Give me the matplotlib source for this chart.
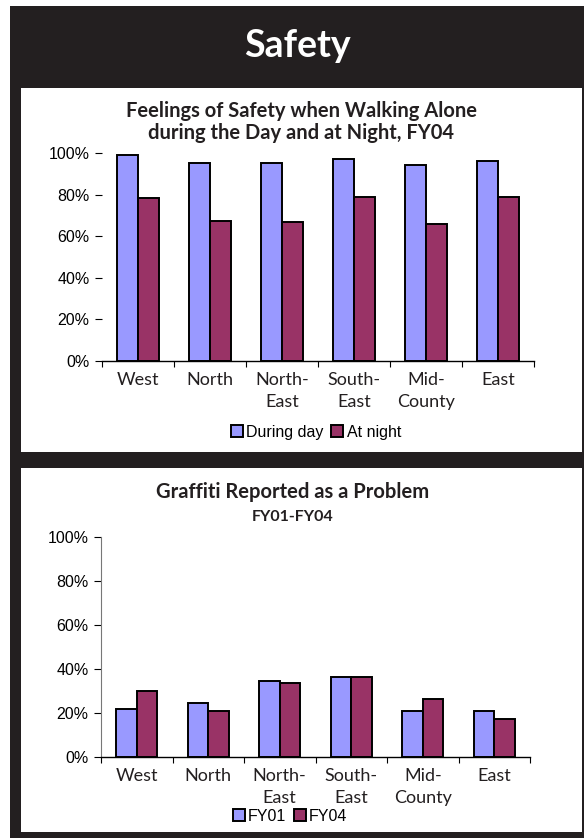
import matplotlib
matplotlib.use("Agg")
import matplotlib.pyplot as plt
from matplotlib.patches import Rectangle, Patch
import numpy as np

# Data
regions = ["West", "North", "North-\nEast", "South-\nEast", "Mid-\nCounty", "East"]
safety_day = [99, 95.4, 95.4, 97, 94.2, 96.3]
safety_night = [78.2, 67.4, 66.6, 78.9, 65.8, 78.9]
graffiti_fy01 = [21.8, 24.5, 34.4, 36.4, 21, 21]
graffiti_fy04 = [30, 21, 33.6, 36.4, 26.4, 17.3]
yticks = [0, 20, 40, 60, 80, 100]

BLUE = "#9999FF"
PLUM = "#993366"
DARK = "#231f20"
W, H = 584, 838

fig = plt.figure(figsize=(W / 100, H / 100), dpi=100)
fig.patch.set_facecolor("white")


def box(x0, y0, x1, y1, color):
    # rectangle in pixel coords (origin top-left)
    fig.patches.append(Rectangle((x0 / W, 1 - y1 / H), (x1 - x0) / W, (y1 - y0) / H,
                                 transform=fig.transFigure, facecolor=color,
                                 edgecolor="none", zorder=-10))


box(10, 6, 584, 838, DARK)
box(21, 88, 582, 452, "white")
box(21, 468, 582, 832, "white")

fig.text(297 / W, 1 - 46 / H, "Safety", color="white", fontsize=27,
         fontweight="bold", family="Lato", ha="center", va="center")


def bar_chart(rect, a, b, names, left_spine, label_y, legend_xy):
    x0, y0, x1, y1 = rect
    ax = fig.add_axes([x0 / W, 1 - y1 / H, (x1 - x0) / W, (y1 - y0) / H])
    x = np.arange(len(regions))
    w = 0.29
    ax.bar(x - w / 2, a, w, color=BLUE, edgecolor="black", linewidth=1.4, label=names[0])
    ax.bar(x + w / 2, b, w, color=PLUM, edgecolor="black", linewidth=1.4, label=names[1])
    ax.set_xlim(-0.5, len(regions) - 0.5)
    ax.set_ylim(0, 100)
    ax.set_yticks(yticks)
    ax.set_yticklabels([f"{t}%" for t in yticks], fontsize=11.5, family="Liberation Sans")
    ax.tick_params(axis="y", length=5, width=0.8, pad=4)
    ax.set_xticks(np.arange(len(regions) + 1) - 0.5)
    ax.set_xticklabels([])
    ax.tick_params(axis="x", length=4, width=0.8, direction="out")
    for s in ["top", "right"]:
        ax.spines[s].set_visible(False)
    ax.spines["left"].set_visible(left_spine)
    ax.spines["left"].set_color("#777777")
    ax.spines["bottom"].set_linewidth(1.0)
    for i, name in enumerate(regions):
        px = x0 + (i + 0.5) * (x1 - x0) / len(regions)
        fig.text(px / W, 1 - label_y / H, name, fontsize=13, family="Lato",
                 color=DARK, ha="center", va="top", linespacing=1.45)
    handles = [Patch(facecolor=BLUE, edgecolor="black", linewidth=1.4),
               Patch(facecolor=PLUM, edgecolor="black", linewidth=1.4)]
    fig.legend(handles, names, loc="center", bbox_to_anchor=(legend_xy[0] / W, 1 - legend_xy[1] / H),
               ncol=2, frameon=False, prop={"family": "Liberation Sans", "size": 11.5},
               handlelength=0.75, handleheight=0.75, handletextpad=0.2,
               columnspacing=0.5, borderaxespad=0)
    return ax


bar_chart((102, 153, 534, 361), safety_day, safety_night,
          ["During day", "At night"], False, 372, (316, 432))
fig.text(301 / W, 1 - 122 / H,
         "Feelings of Safety when Walking Alone\nduring the Day and at Night, FY04",
         fontsize=14.5, fontweight="bold", family="Lato", color=DARK,
         ha="center", va="center", linespacing=1.1)

bar_chart((101, 537, 530, 757), graffiti_fy01, graffiti_fy04,
          ["FY01", "FY04"], True, 768, (290, 816))
fig.text(293 / W, 1 - 492 / H, "Graffiti Reported as a Problem",
         fontsize=14.5, fontweight="bold", family="Lato", color=DARK,
         ha="center", va="center")
fig.text(293 / W, 1 - 517 / H, "FY01-FY04",
         fontsize=11.5, fontweight="bold", family="Lato", color=DARK,
         ha="center", va="center")

fig.savefig("out.png", dpi=100)
